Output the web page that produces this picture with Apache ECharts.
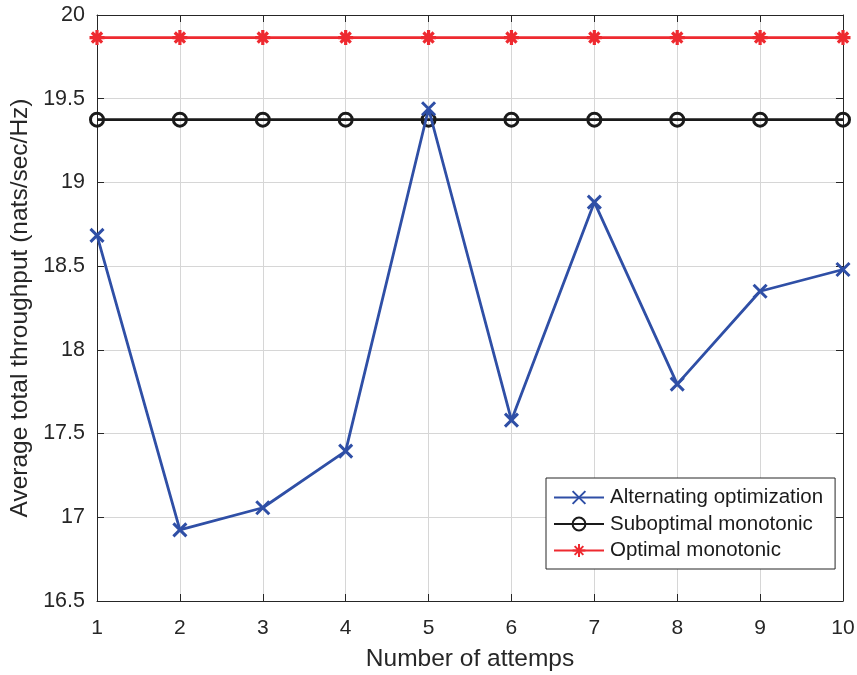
<!DOCTYPE html>
<html>
<head>
<meta charset="utf-8">
<script src="https://cdn.jsdelivr.net/npm/echarts@6/dist/echarts.min.js"></script>
<style>
  html, body { margin: 0; padding: 0; background: #fff; }
  #chart { width: 857px; height: 675px; }
</style>
</head>
<body>
<div id="chart"></div>
<script>
// Attempt index on the x axis
const attempts = [1, 2, 3, 4, 5, 6, 7, 8, 9, 10];

// Average total throughput per attempt (nats/sec/Hz)
const alternating = [18.684, 16.925, 17.057, 17.395, 19.44, 17.58, 18.882, 17.795, 18.35, 18.48];
const suboptimal  = [19.375, 19.375, 19.375, 19.375, 19.375, 19.375, 19.375, 19.375, 19.375, 19.375];
const optimal     = [19.865, 19.865, 19.865, 19.865, 19.865, 19.865, 19.865, 19.865, 19.865, 19.865];

const seriesNames = ['Alternating optimization', 'Suboptimal monotonic', 'Optimal monotonic'];

const FONT = '"Liberation Sans", Arial, Helvetica, sans-serif';
const AXIS_COLOR = '#262626';
const GRID_COLOR = '#d6d6d6';

// Stroked marker outlines (zero-area paths, so only the border is visible)
const X_MARK = 'path://M0,0L10,10M10,0L0,10';
const STAR_MARK = 'path://M5,0L5,10M0,5L10,5M1.6,1.6L8.4,8.4M8.4,1.6L1.6,8.4';

const pairs = arr => attempts.map((a, i) => [a, arr[i]]);

const chart = echarts.init(document.getElementById('chart'), null, { renderer: 'canvas' });

const axisLine = { show: true, onZero: false, lineStyle: { color: AXIS_COLOR, width: 1 } };
const innerTick = { show: true, inside: true, length: 7, lineStyle: { color: AXIS_COLOR, width: 1 } };

chart.setOption({
  backgroundColor: '#ffffff',
  animation: false,
  textStyle: { fontFamily: FONT },
  grid: { left: 97, right: 14, top: 15, bottom: 74, containLabel: false, outerBoundsMode: 'none' },
  legend: {
    orient: 'vertical',
    left: 546,
    top: 478,
    itemWidth: 50,
    itemHeight: 16,
    itemGap: 5.5,
    padding: [9, 12, 8, 7],
    borderColor: '#262626',
    borderWidth: 1,
    backgroundColor: '#ffffff',
    textStyle: { fontFamily: FONT, fontSize: 20.5, color: '#1a1a1a', padding: [0, 0, 0, 1] },
    data: seriesNames
  },
  xAxis: [
    {
      type: 'value', min: 1, max: 10, interval: 1, position: 'bottom',
      name: 'Number of attemps', nameLocation: 'middle', nameGap: 46,
      nameTextStyle: { fontFamily: FONT, fontSize: 24.5, color: AXIS_COLOR },
      axisLine: axisLine, axisTick: innerTick,
      axisLabel: { fontFamily: FONT, fontSize: 21, color: AXIS_COLOR, margin: 17 },
      splitLine: { show: true, lineStyle: { color: GRID_COLOR, width: 1 } }
    },
    {
      type: 'value', min: 1, max: 10, interval: 1, position: 'top',
      axisLine: axisLine, axisTick: innerTick, axisLabel: { show: false },
      splitLine: { show: false }
    }
  ],
  yAxis: [
    {
      type: 'value', min: 16.5, max: 20, interval: 0.5, position: 'left',
      name: 'Average total throughput (nats/sec/Hz)', nameLocation: 'middle', nameGap: 62,
      nameTextStyle: { fontFamily: FONT, fontSize: 24.5, color: AXIS_COLOR },
      axisLine: axisLine, axisTick: innerTick,
      axisLabel: { fontFamily: FONT, fontSize: 21.5, color: AXIS_COLOR, margin: 12 },
      splitLine: { show: true, lineStyle: { color: GRID_COLOR, width: 1 } }
    },
    {
      type: 'value', min: 16.5, max: 20, interval: 0.5, position: 'right',
      axisLine: axisLine, axisTick: innerTick, axisLabel: { show: false },
      splitLine: { show: false }
    }
  ],
  series: [
    {
      name: seriesNames[0], type: 'line', data: pairs(alternating),
      symbol: X_MARK, symbolSize: 13, showAllSymbol: true,
      lineStyle: { color: '#2f4fa6', width: 2.8 },
      itemStyle: { color: '#2f4fa6', borderColor: '#2f4fa6', borderWidth: 3 },
      z: 4
    },
    {
      name: seriesNames[1], type: 'line', data: pairs(suboptimal),
      symbol: 'circle', symbolSize: 13, showAllSymbol: true,
      lineStyle: { color: '#1a1a1a', width: 2.8 },
      itemStyle: { color: 'rgba(255,255,255,0)', borderColor: '#1a1a1a', borderWidth: 3 },
      z: 3
    },
    {
      name: seriesNames[2], type: 'line', data: pairs(optimal),
      symbol: STAR_MARK, symbolSize: 15, showAllSymbol: true,
      lineStyle: { color: '#ee2a30', width: 2.8 },
      itemStyle: { color: '#ee2a30', borderColor: '#ee2a30', borderWidth: 3.2 },
      z: 3
    }
  ]
});
</script>
</body>
</html>
